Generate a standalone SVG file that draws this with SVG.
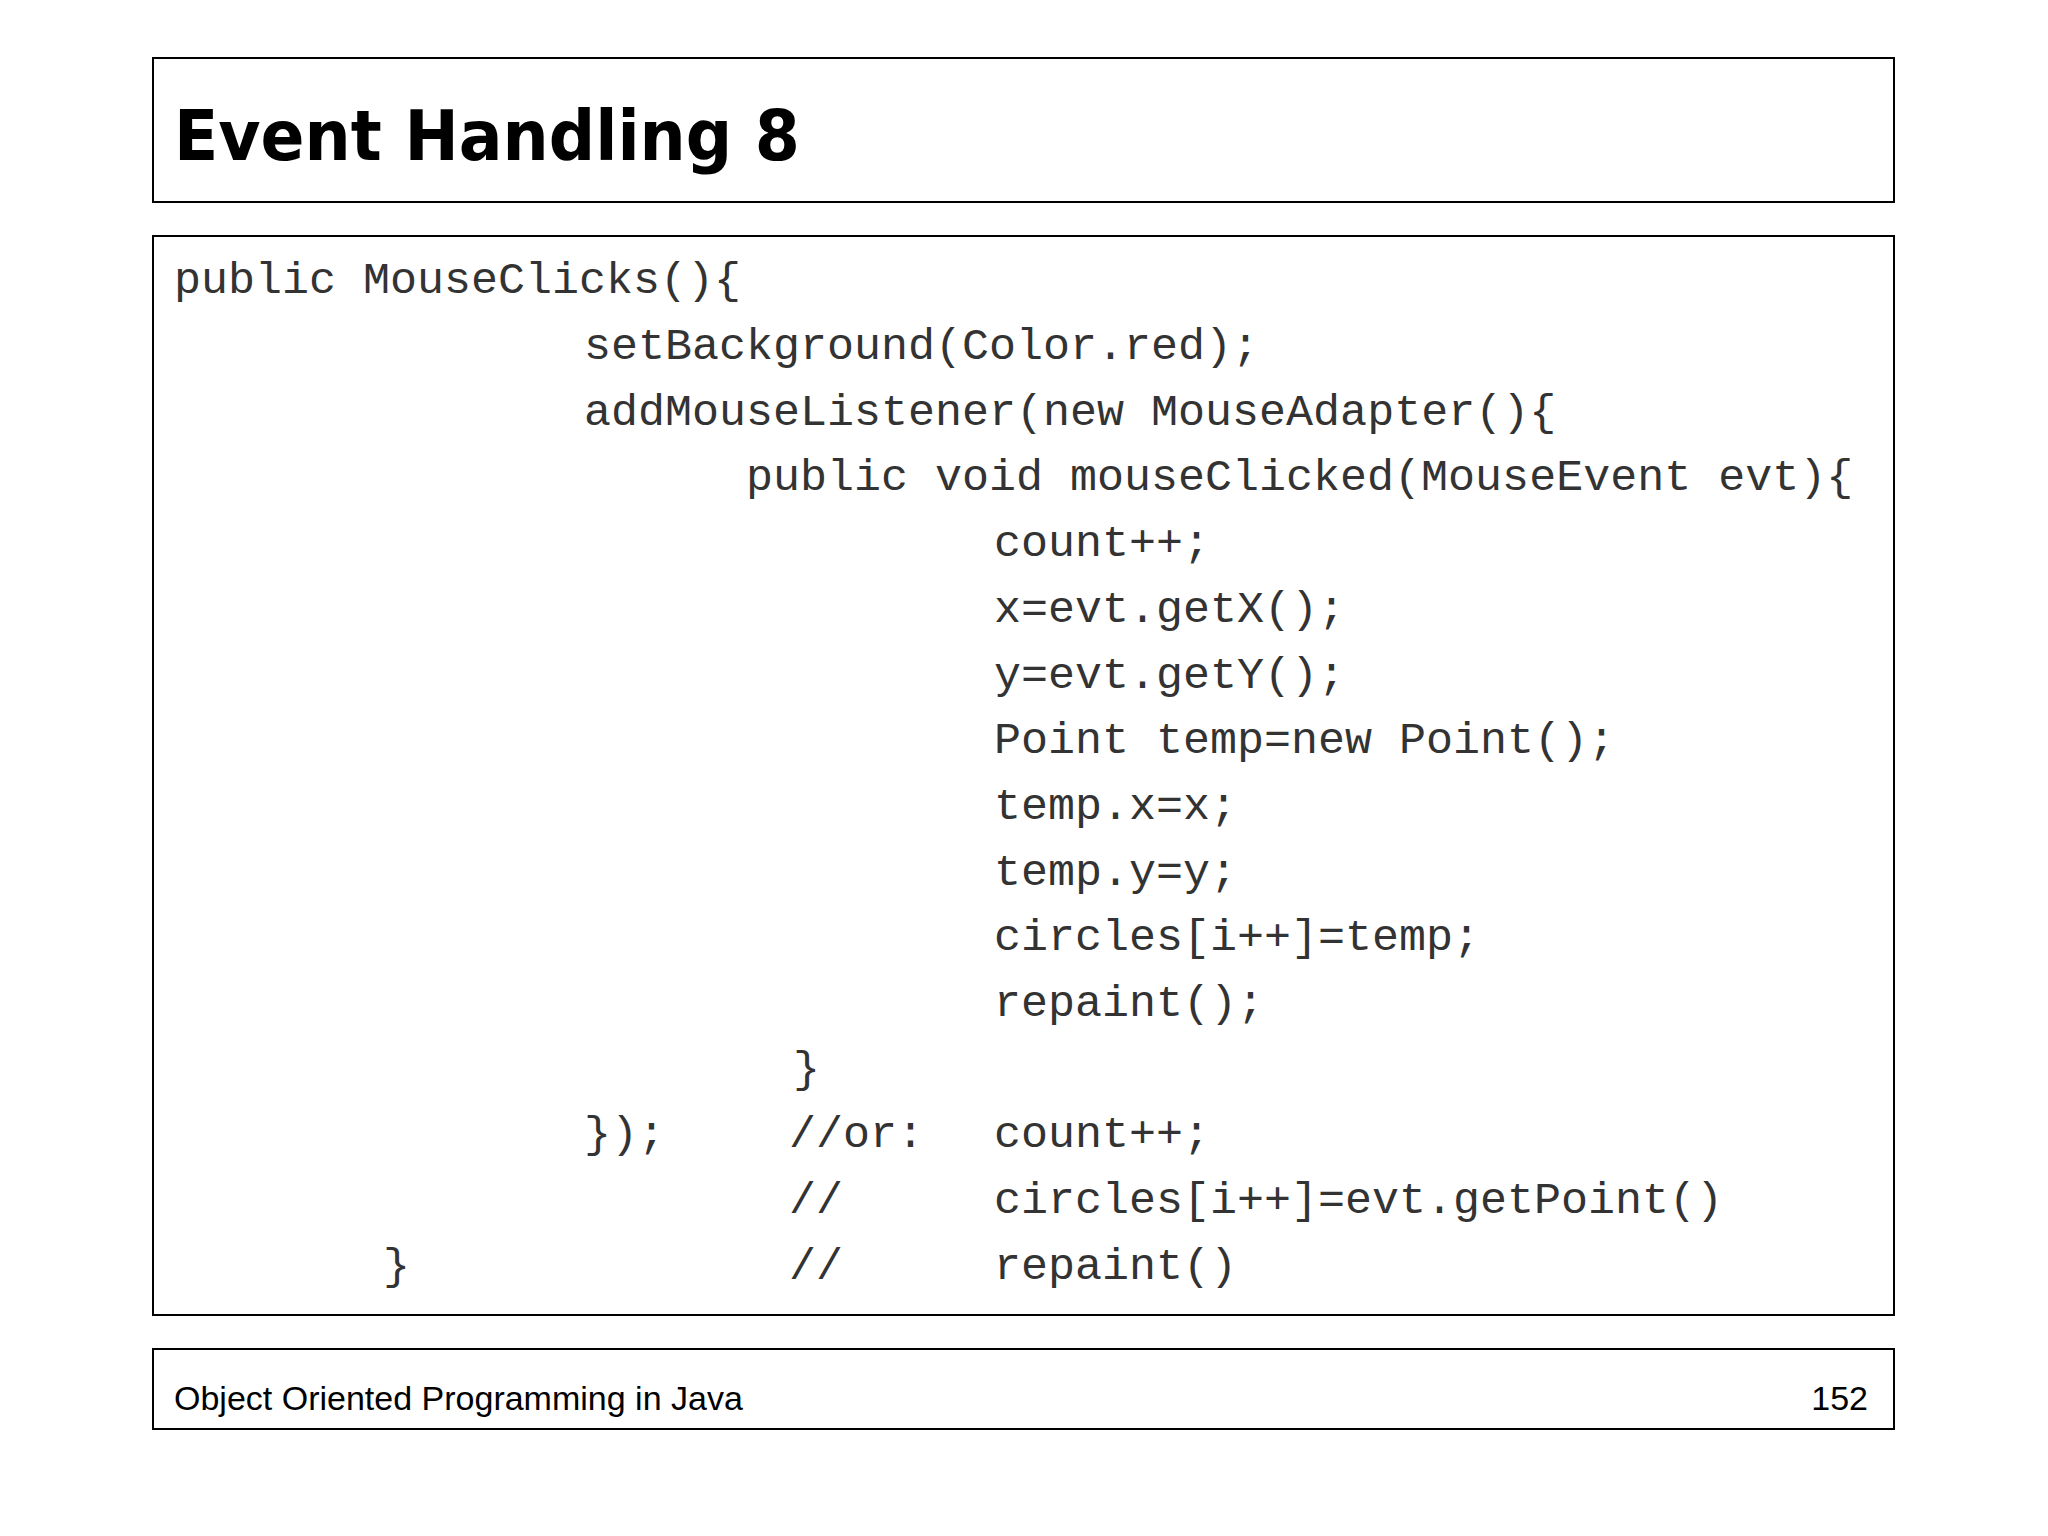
<svg xmlns="http://www.w3.org/2000/svg" width="2048" height="1536" viewBox="0 0 2048 1536">
<style>
.box{fill:#fff;stroke:#000;stroke-width:2}
.code{font-family:"Liberation Mono",monospace;font-size:45px;fill:#333}
.title{font-family:"DejaVu Sans",sans-serif;font-weight:bold;font-size:70px;fill:#000}
.foot{font-family:"Liberation Sans",sans-serif;font-size:34px;fill:#000}
</style>
<rect width="2048" height="1536" fill="#fff"/>
<g id="title"><rect class="box" x="153" y="58" width="1741" height="144"/>
<text class="title" x="174" y="160" textLength="626" lengthAdjust="spacingAndGlyphs">Event Handling 8</text></g>
<g id="code"><rect class="box" x="153" y="236" width="1741" height="1079"/>
<text class="code" x="174" y="293">public MouseClicks(){</text>
<text class="code" x="584" y="359">setBackground(Color.red);</text>
<text class="code" x="584" y="425">addMouseListener(new MouseAdapter(){</text>
<text class="code" x="746" y="490">public void mouseClicked(MouseEvent evt){</text>
<text class="code" x="994" y="556">count++;</text>
<text class="code" x="994" y="622">x=evt.getX();</text>
<text class="code" x="994" y="688">y=evt.getY();</text>
<text class="code" x="994" y="753">Point temp=new Point();</text>
<text class="code" x="994" y="819">temp.x=x;</text>
<text class="code" x="994" y="885">temp.y=y;</text>
<text class="code" x="994" y="950">circles[i++]=temp;</text>
<text class="code" x="994" y="1016">repaint();</text>
<text class="code" x="793" y="1082">}</text>
<text class="code" x="584" y="1147">});</text>
<text class="code" x="789" y="1147">//or:</text>
<text class="code" x="994" y="1147">count++;</text>
<text class="code" x="789" y="1213">//</text>
<text class="code" x="994" y="1213">circles[i++]=evt.getPoint()</text>
<text class="code" x="383" y="1279">}</text>
<text class="code" x="789" y="1279">//</text>
<text class="code" x="994" y="1279">repaint()</text></g>
<g id="footer"><rect class="box" x="153" y="1349" width="1741" height="80"/>
<text class="foot" x="174" y="1410">Object Oriented Programming in Java</text>
<text class="foot" x="1868" y="1410" text-anchor="end">152</text></g>
</svg>
